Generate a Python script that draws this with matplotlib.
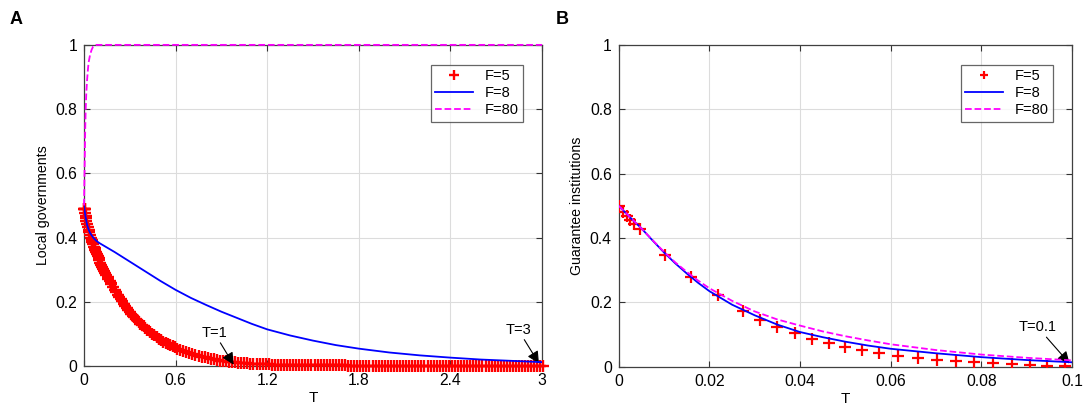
import numpy as np
import matplotlib
matplotlib.use("Agg")
import matplotlib.pyplot as plt

plt.rcParams['font.family'] = ['Liberation Sans', 'DejaVu Sans']

# ---- panel A: local governments ----
a_t5 = [0, 0.002, 0.004, 0.006, 0.008, 0.01, 0.013, 0.016, 0.02, 0.025, 0.03, 0.035,
        0.04, 0.045, 0.05, 0.055, 0.06, 0.065, 0.07, 0.075, 0.08, 0.085, 0.09, 0.095,
        0.10, 0.107, 0.114, 0.12, 0.127, 0.134, 0.14, 0.147, 0.154, 0.16, 0.167, 0.174,
        0.18, 0.19, 0.20, 0.21, 0.22, 0.23, 0.24, 0.25, 0.26, 0.27, 0.28, 0.29, 0.30,
        0.31, 0.32, 0.33, 0.34, 0.35, 0.36, 0.37, 0.38, 0.39, 0.40, 0.415, 0.43, 0.445,
        0.46, 0.475, 0.49, 0.505, 0.52, 0.535, 0.55, 0.565, 0.58, 0.595, 0.61, 0.63,
        0.65, 0.67, 0.69, 0.71, 0.73, 0.75, 0.77, 0.79, 0.81, 0.83, 0.85, 0.87, 0.89,
        0.91, 0.93, 0.95, 0.97, 0.99,
        1.01, 1.03, 1.05, 1.07, 1.09, 1.11, 1.13, 1.15, 1.17, 1.19,
        1.21, 1.23, 1.25, 1.27, 1.29, 1.31, 1.33, 1.35, 1.37, 1.39,
        1.41, 1.43, 1.45, 1.47, 1.49, 1.51, 1.53, 1.55, 1.57, 1.59,
        1.61, 1.63, 1.65, 1.67, 1.69, 1.71, 1.73, 1.75, 1.77, 1.79,
        1.81, 1.83, 1.85, 1.87, 1.89, 1.91, 1.93, 1.95, 1.97, 1.99,
        2.01, 2.03, 2.05, 2.07, 2.09, 2.11, 2.13, 2.15, 2.17, 2.19,
        2.21, 2.23, 2.25, 2.27, 2.29, 2.31, 2.33, 2.35, 2.37, 2.39,
        2.41, 2.43, 2.45, 2.47, 2.49, 2.51, 2.53, 2.55, 2.57, 2.59,
        2.61, 2.63, 2.65, 2.67, 2.69, 2.71, 2.73, 2.75, 2.77, 2.79,
        2.81, 2.83, 2.85, 2.87, 2.89, 2.91, 2.93, 2.95, 2.97, 2.99,
        3.005]
a_y5 = [0.49, 0.49, 0.49, 0.49, 0.475, 0.468, 0.46, 0.452, 0.443, 0.433, 0.424, 0.416,
        0.408, 0.400, 0.393, 0.386, 0.379, 0.372, 0.366, 0.360, 0.354, 0.348, 0.342,
        0.336, 0.330, 0.322, 0.315, 0.309, 0.302, 0.295, 0.289, 0.283, 0.277, 0.271,
        0.265, 0.259, 0.254, 0.246, 0.238, 0.230, 0.222, 0.215, 0.208, 0.201, 0.194,
        0.187, 0.181, 0.175, 0.169, 0.163, 0.157, 0.152, 0.147, 0.142, 0.137, 0.132,
        0.127, 0.123, 0.118, 0.112, 0.106, 0.100, 0.095, 0.090, 0.085, 0.080, 0.076,
        0.072, 0.068, 0.064, 0.061, 0.058, 0.054, 0.050, 0.046, 0.043, 0.040, 0.037,
        0.034, 0.031, 0.029, 0.027, 0.025, 0.023, 0.021, 0.019, 0.017, 0.016, 0.014,
        0.013, 0.012, 0.011,
        0.010, 0.009, 0.008, 0.008, 0.007, 0.007, 0.006, 0.006, 0.005, 0.005,
        0.005, 0.004, 0.004, 0.004, 0.004, 0.003, 0.003, 0.003, 0.003, 0.003,
        0.003, 0.002, 0.002, 0.002, 0.002, 0.002, 0.002, 0.002, 0.002, 0.002,
        0.002, 0.002, 0.002, 0.002, 0.002, 0.002, 0.001, 0.001, 0.001, 0.001,
        0.001, 0.001, 0.001, 0.001, 0.001, 0.001, 0.001, 0.001, 0.001, 0.001,
        0.001, 0.001, 0.001, 0.001, 0.001, 0.001, 0.001, 0.001, 0.001, 0.001,
        0.001, 0.001, 0.001, 0.001, 0.001, 0.001, 0.001, 0.001, 0.001, 0.001,
        0.001, 0.001, 0.001, 0.001, 0.001, 0.001, 0.001, 0.001, 0.001, 0.001,
        0.001, 0.001, 0.001, 0.001, 0.001, 0.001, 0.001, 0.001, 0.001, 0.001,
        0.001, 0.001, 0.001, 0.001, 0.001, 0.001, 0.001, 0.001, 0.001, 0.001,
        0.001]

a_t8 = [0, 0.005, 0.01, 0.02, 0.03, 0.04, 0.06, 0.08, 0.1, 0.2, 0.3, 0.4, 0.5, 0.6,
        0.7, 0.8, 0.9, 1.0, 1.1, 1.2, 1.35, 1.5, 1.65, 1.8, 2.0, 2.2, 2.4, 2.6, 2.8, 3.0]
a_y8 = [0.5, 0.48, 0.465, 0.44, 0.425, 0.414, 0.40, 0.39, 0.383, 0.355, 0.325, 0.295,
        0.265, 0.237, 0.212, 0.19, 0.169, 0.15, 0.131, 0.114, 0.095, 0.079, 0.065,
        0.054, 0.042, 0.033, 0.026, 0.02, 0.016, 0.012]

a_t80 = [0, 0.002, 0.004, 0.006, 0.008, 0.011, 0.015, 0.02, 0.025, 0.03, 0.04, 0.05,
         0.06, 0.08, 3.0]
a_y80 = [0.5, 0.56, 0.62, 0.68, 0.74, 0.8, 0.85, 0.89, 0.92, 0.945, 0.97, 0.985,
         0.995, 1.0, 1.0]

# ---- panel B: guarantee institutions ----
b_t5 = [0, 0.001, 0.0018, 0.0025, 0.0034, 0.0046, 0.0102, 0.016, 0.0219, 0.0275, 0.0312,
        0.035, 0.0388, 0.0426, 0.0464, 0.050, 0.0537, 0.0575, 0.0617, 0.066, 0.0703,
        0.0745, 0.0785, 0.0827, 0.0868, 0.0907, 0.0946, 0.0985]
b_y5 = [0.498, 0.48, 0.467, 0.456, 0.444, 0.428, 0.348, 0.278, 0.222, 0.174, 0.146,
        0.123, 0.105, 0.087, 0.073, 0.061, 0.051, 0.042, 0.034, 0.027, 0.022, 0.017,
        0.014, 0.011, 0.008, 0.006, 0.004, 0.002]

b_t8 = [0, 0.0025, 0.005, 0.0075, 0.01, 0.0125, 0.015, 0.0175, 0.02, 0.025, 0.03,
        0.035, 0.04, 0.045, 0.05, 0.055, 0.06, 0.07, 0.08, 0.09, 0.1]
b_y8 = [0.5, 0.464, 0.43, 0.392, 0.355, 0.321, 0.29, 0.261, 0.235, 0.193, 0.16, 0.131,
        0.108, 0.092, 0.078, 0.066, 0.056, 0.042, 0.03, 0.021, 0.014]

b_t80 = [0, 0.0025, 0.005, 0.0075, 0.01, 0.0125, 0.015, 0.0175, 0.02, 0.025, 0.03,
         0.035, 0.04, 0.045, 0.05, 0.055, 0.06, 0.07, 0.08, 0.09, 0.1]
b_y80 = [0.5, 0.465, 0.43, 0.393, 0.357, 0.324, 0.295, 0.268, 0.244, 0.205, 0.172,
         0.147, 0.128, 0.11, 0.095, 0.082, 0.07, 0.052, 0.038, 0.028, 0.02]

a_xticks = [0, 0.6, 1.2, 1.8, 2.4, 3]
b_xticks = [0, 0.02, 0.04, 0.06, 0.08, 0.1]
yticks = [0, 0.2, 0.4, 0.6, 0.8, 1]


def fmt(v):
    return ('%g' % v)


fig = plt.figure(figsize=(10.84, 4.08), dpi=100)
axA = fig.add_axes([0.0775, 0.103, 0.4225, 0.787])
axB = fig.add_axes([0.5708, 0.101, 0.418, 0.789])

for ax, xt, xmax in [(axA, a_xticks, 3), (axB, b_xticks, 0.1)]:
    ax.set_xlim(0, xmax)
    ax.set_ylim(0, 1)
    ax.set_xticks(xt)
    ax.set_xticklabels([fmt(v) for v in xt])
    ax.set_yticks(yticks)
    ax.set_yticklabels([fmt(v) for v in yticks])
    ax.grid(True, color='#dcdcdc', linewidth=0.8)
    ax.set_axisbelow(True)
    ax.tick_params(direction='in', length=4, labelsize=11.3, color='#333333',
                   top=True, right=True, pad=5)
    for s in ax.spines.values():
        s.set_color('#404040')
        s.set_linewidth(0.9)
    ax.set_xlabel('T', fontsize=11, labelpad=2)

arrow = dict(arrowstyle='-|>', color='black', lw=0.8, mutation_scale=18,
             shrinkA=0, shrinkB=0)

# panel A
axA.plot(a_t5, a_y5, '+', color='red', markersize=9, markeredgewidth=1.7,
         clip_on=False, label='F=5', zorder=3)
axA.plot(a_t8, a_y8, '-', color='blue', linewidth=1.3, label='F=8', zorder=4)
axA.plot(a_t80, a_y80, '--', color='magenta', linewidth=1.3, label='F=80',
         clip_on=False, zorder=4)
axA.set_ylabel('Local governments', fontsize=10.2)
axA.annotate('T=1', xy=(0.98, 0.004), xytext=(0.77, 0.09), fontsize=10.5,
             arrowprops=arrow)
axA.annotate('T=3', xy=(2.98, 0.008), xytext=(2.76, 0.1), fontsize=10.5,
             arrowprops=arrow)

# panel B
axB.plot(b_t5, b_y5, '+', color='red', markersize=8, markeredgewidth=1.6,
         label='F=5', zorder=3)
axB.plot(b_t8, b_y8, '-', color='blue', linewidth=1.3, label='F=8', zorder=4)
axB.plot(b_t80, b_y80, '--', color='magenta', linewidth=1.3, label='F=80', zorder=4)
axB.set_ylabel('Guarantee institutions', fontsize=10.2)
axB.annotate('T=0.1', xy=(0.0995, 0.01), xytext=(0.0883, 0.11), fontsize=10.5,
             arrowprops=arrow)

for ax in (axA, axB):
    leg = ax.legend(loc='upper right', fontsize=10.5, frameon=True, fancybox=False,
                    edgecolor='#404040', handlelength=2.6, borderpad=0.3,
                    labelspacing=0.2, markerfirst=True, markerscale=0.8,
                    bbox_to_anchor=(0.975, 0.96))
    leg.get_frame().set_linewidth(0.9)

fig.text(0.009, 0.94, 'A', fontsize=13, fontweight='bold')
fig.text(0.513, 0.94, 'B', fontsize=13, fontweight='bold')

fig.savefig('out.png', dpi=100)
